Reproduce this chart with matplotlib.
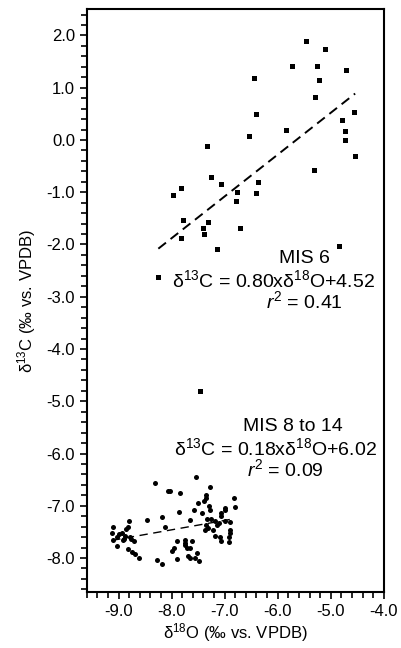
import matplotlib
matplotlib.use("Agg")
import matplotlib.pyplot as plt
from matplotlib.ticker import MultipleLocator, FormatStrFormatter

plt.rcParams['font.family'] = ['Liberation Sans', 'DejaVu Sans']
plt.rcParams['mathtext.fontset'] = 'custom'
plt.rcParams['mathtext.rm'] = 'Liberation Sans'
plt.rcParams['mathtext.it'] = 'Liberation Sans:italic'

# ---- data ----

# MIS 6 samples (squares)
mis6_d18O = [-5.46, -5.10, -5.73, -5.26, -4.71, -6.45, -5.22, -5.29, -4.56, -6.40,
             -4.79, -5.85, -4.73, -6.55, -4.74, -7.34, -4.54, -5.31, -7.25, -7.07,
             -6.37, -7.83, -7.97, -6.76, -6.40, -6.78, -7.78, -7.31, -7.40, -6.71,
             -7.38, -7.82, -7.14, -4.85, -8.25, -7.46]
mis6_d13C = [1.89, 1.75, 1.41, 1.41, 1.34, 1.18, 1.15, 0.82, 0.53, 0.50,
             0.39, 0.20, 0.18, 0.07, -0.01, -0.12, -0.31, -0.58, -0.70, -0.85,
             -0.80, -0.92, -1.06, -1.00, -1.01, -1.16, -1.54, -1.56, -1.69, -1.68,
             -1.79, -1.87, -2.09, -2.03, -2.62, -4.80]

# MIS 8 to 14 samples (dots)
mis8_d18O = [-7.54, -8.31, -7.27, -8.07, -8.03, -7.84, -7.36, -7.35, -6.82, -7.51,
             -7.39, -7.29, -7.00, -6.80, -7.86, -7.58, -7.42, -7.27, -7.07, -6.99,
             -7.07, -8.18, -8.47, -7.65, -8.80, -7.34, -7.25, -7.18, -7.10, -7.00,
             -6.90, -9.10, -8.83, -8.85, -8.12, -7.36, -7.32, -7.14, -7.22, -7.37,
             -6.90, -6.90, -9.12, -8.99, -8.93, -8.88, -9.02, -8.78, -8.90, -7.19,
             -7.08, -6.91, -9.10, -8.91, -8.76, -8.70, -7.90, -7.74, -7.61, -7.07,
             -6.92, -9.03, -7.74, -7.75, -8.82, -7.95, -8.00, -7.71, -7.66, -8.75,
             -7.53, -8.69, -8.62, -7.69, -7.65, -7.89, -7.56, -7.49, -8.27, -8.19]
mis8_d13C = [-6.45, -6.56, -6.64, -6.72, -6.72, -6.76, -6.79, -6.85, -6.85, -6.95,
             -6.90, -7.00, -7.04, -7.02, -7.11, -7.08, -7.14, -7.09, -7.13, -7.09,
             -7.19, -7.22, -7.27, -7.27, -7.29, -7.25, -7.25, -7.29, -7.33, -7.29,
             -7.31, -7.40, -7.40, -7.45, -7.41, -7.36, -7.42, -7.37, -7.47, -7.47,
             -7.46, -7.52, -7.53, -7.54, -7.53, -7.58, -7.59, -7.60, -7.64, -7.57,
             -7.60, -7.60, -7.66, -7.66, -7.64, -7.67, -7.67, -7.65, -7.67, -7.67,
             -7.70, -7.76, -7.71, -7.75, -7.83, -7.80, -7.86, -7.81, -7.81, -7.89,
             -7.90, -7.93, -7.99, -7.96, -7.99, -8.02, -7.99, -8.05, -8.04, -8.12]

# regression coefficients (slope, intercept) as drawn
mis6_fit = (0.80, 4.52)
mis8_fit = (0.18, -6.02)

x_ticks = [-9.0, -8.0, -7.0, -6.0, -5.0, -4.0]
y_ticks = [2.0, 1.0, 0.0, -1.0, -2.0, -3.0, -4.0, -5.0, -6.0, -7.0, -8.0]

# ---- plot ----
fig = plt.figure(figsize=(4.02, 6.48), dpi=100)
ax = fig.add_axes([0.2157, 0.0864, 0.739, 0.8992])

ax.plot(mis6_d18O, mis6_d13C, 's', color='black', markersize=3.6, markeredgewidth=0)
ax.plot(mis8_d18O, mis8_d13C, 'o', color='black', markersize=3.6, markeredgewidth=0)

# regression lines over the data range of each group
x6 = [min(mis6_d18O[:-1]), max(mis6_d18O)]
ax.plot(x6, [mis6_fit[0] * v + mis6_fit[1] for v in x6], '--', color='black',
        lw=1.4, dashes=(5, 3))
x8 = [min(mis8_d18O), max(mis8_d18O)]
ax.plot(x8, [mis8_fit[0] * v + mis8_fit[1] for v in x8], '--', color='black',
        lw=1.0, dashes=(6, 4))

# annotations
fs = 14
ax.text(-5.5, -2.26, 'MIS 6', ha='center', va='center', fontsize=fs)
ax.text(-6.08, -2.68, r'δ$^{13}$C = 0.80xδ$^{18}$O+4.52', ha='center', va='center', fontsize=fs)
ax.text(-5.5, -3.08, r'$r^2$ = 0.41', ha='center', va='center', fontsize=fs)

ax.text(-5.72, -5.48, 'MIS 8 to 14', ha='center', va='center', fontsize=fs)
ax.text(-6.05, -5.90, r'δ$^{13}$C = 0.18xδ$^{18}$O+6.02', ha='center', va='center', fontsize=fs)
ax.text(-5.85, -6.30, r'$r^2$ = 0.09', ha='center', va='center', fontsize=fs)

ax.set_xlim(-9.6, -4.0)
ax.set_ylim(-8.65, 2.5)
ax.set_xticks(x_ticks)
ax.set_yticks(y_ticks)
ax.xaxis.set_major_formatter(FormatStrFormatter('%.1f'))
ax.yaxis.set_major_formatter(FormatStrFormatter('%.1f'))
ax.xaxis.set_minor_locator(MultipleLocator(0.2))
ax.yaxis.set_minor_locator(MultipleLocator(0.2))
ax.tick_params(which='both', direction='out', width=1.2, labelsize=12)
ax.tick_params(which='major', length=5)
ax.tick_params(which='minor', length=4)
for s in ax.spines.values():
    s.set_linewidth(1.5)

ax.set_xlabel(r'δ$^{18}$O (‰ vs. VPDB)', fontsize=12, labelpad=2)
ax.set_ylabel(r'δ$^{13}$C (‰ vs. VPDB)', fontsize=12, labelpad=6)

fig.savefig('out.png', dpi=100)
